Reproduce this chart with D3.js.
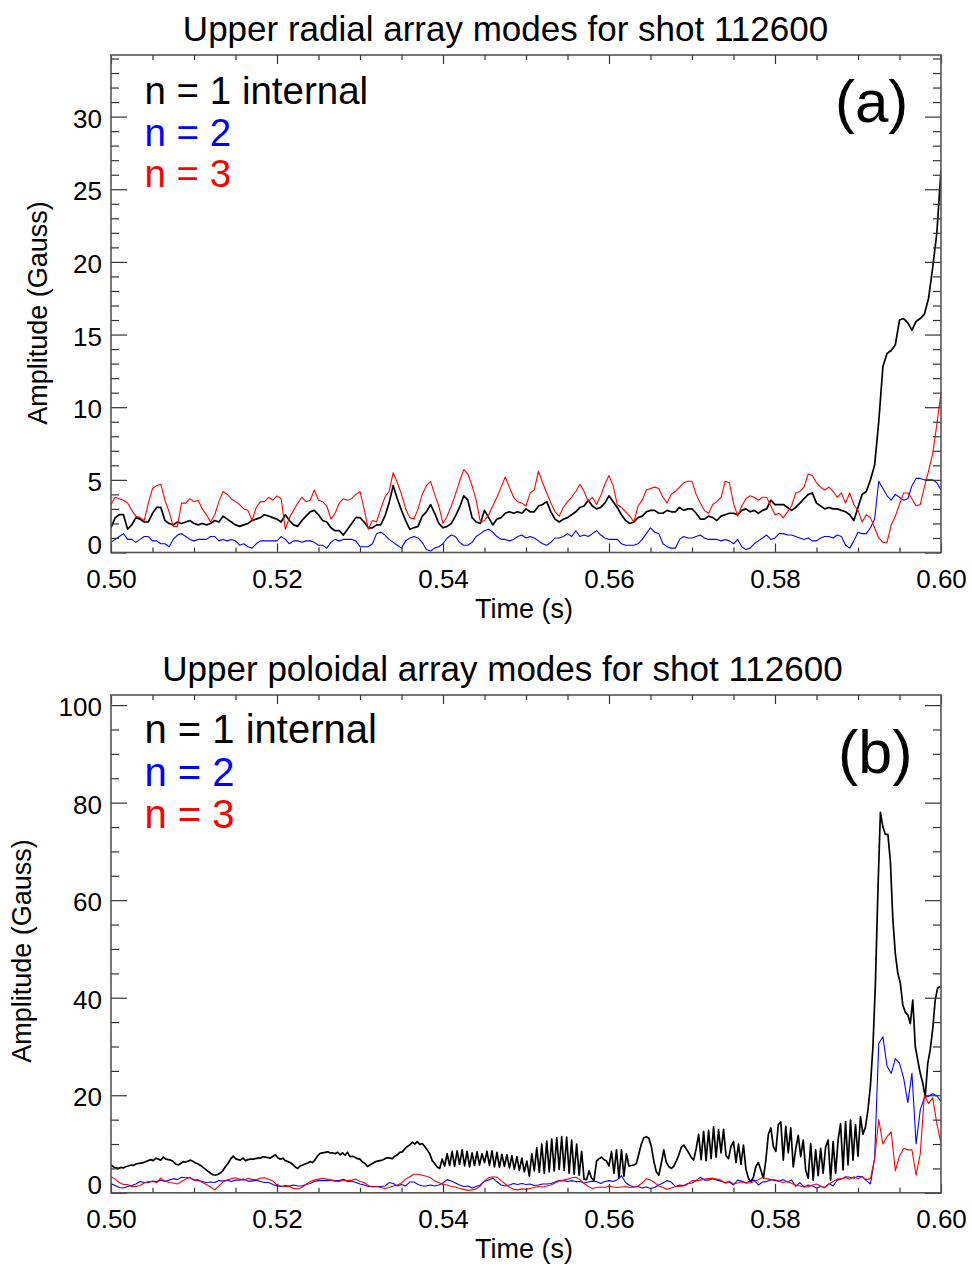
<!DOCTYPE html>
<html>
<head>
<meta charset="utf-8">
<script src="https://cdn.jsdelivr.net/npm/d3@7"></script>
<style>
  body { margin: 0; background: #fff; }
  svg text { font-family: "Liberation Sans", Arial, Helvetica, sans-serif; }
</style>
</head>
<body>
<div id="chart"></div>
<script>
// ---- data read off the reference (Gauss), sampled on a regular time grid ----
// panel (a): upper radial array, samples every 0.5 ms from 0.500 s
const radialStep = 0.0005;
const radialN1 = [
  1.7, 2.4, 2.6, 2.6, 1.6, 1.9, 2.4, 2.3, 2.1, 2.1,
  2.7, 3.1, 3.1, 2.2, 2.0, 1.9, 2.1, 2.0, 2.1, 2.2,
  2.0, 1.9, 2.0, 1.9, 2.0, 2.2, 2.1, 2.5, 2.3, 2.1,
  1.9, 1.8, 1.9, 2.0, 2.2, 2.3, 2.4, 2.6, 2.5, 2.4,
  2.3, 2.1, 2.6, 2.2, 1.9, 1.8, 2.2, 2.5, 2.8, 2.9,
  2.6, 2.2, 2.1, 1.7, 1.5, 1.5, 1.2, 1.6, 2.0, 2.4,
  2.4, 2.1, 1.7, 1.7, 1.9, 1.9, 2.5, 3.4, 4.6, 3.7,
  2.9, 2.2, 1.6, 1.7, 1.8, 2.5, 2.8, 3.3, 2.7, 2.0,
  1.7, 1.8, 2.0, 2.5, 3.1, 3.9, 3.6, 2.4, 2.1, 2.0,
  2.9, 2.4, 1.9, 2.3, 2.4, 2.7, 2.8, 2.7, 2.8, 2.7,
  3.0, 2.8, 2.8, 3.2, 3.3, 3.5, 2.8, 2.3, 2.1, 2.3,
  2.4, 2.6, 2.8, 3.1, 3.2, 3.6, 3.2, 3.0, 3.1, 3.4,
  3.9, 3.5, 3.1, 2.6, 2.2, 2.0, 2.1, 2.4, 2.5, 2.8,
  2.9, 2.9, 2.7, 2.7, 2.9, 2.8, 2.8, 3.1, 2.9, 3.0,
  3.0, 2.7, 2.3, 2.3, 2.5, 2.4, 2.2, 2.5, 2.6, 2.7,
  2.7, 2.6, 2.9, 3.0, 2.8, 2.9, 2.7, 2.9, 3.0, 3.6,
  3.3, 3.3, 3.3, 3.1, 2.9, 3.1, 3.4, 3.7, 4.0, 4.1,
  3.4, 3.2, 3.0, 3.1, 3.0, 3.0, 2.9, 2.8, 2.6, 2.2,
  3.1, 4.0, 4.2, 5.0, 6.0, 9.0, 12.8, 13.7, 13.9, 14.3,
  16.0, 16.1, 15.8, 15.3, 15.9, 16.1, 16.4, 17.5, 19.6, 22.0,
  26.3
];
const radialN2 = [
  0.7, 0.9, 1.1, 1.3, 0.9, 0.9, 0.7, 0.9, 1.1, 1.1,
  0.8, 0.8, 0.6, 0.6, 0.4, 0.9, 1.2, 1.3, 1.1, 0.9,
  0.8, 0.9, 0.9, 0.9, 1.1, 1.1, 0.8, 0.9, 0.8, 0.9,
  0.8, 0.5, 0.6, 0.4, 0.3, 0.6, 0.8, 0.8, 0.8, 0.8,
  0.8, 1.1, 0.9, 0.6, 0.8, 0.8, 0.7, 0.8, 0.8, 0.7,
  0.5, 0.5, 0.3, 0.7, 0.9, 0.8, 0.9, 0.9, 0.9, 0.8,
  0.4, 0.4, 0.4, 0.6, 1.3, 1.4, 1.2, 0.9, 0.7, 0.5,
  0.3, 0.8, 1.0, 1.1, 1.0, 0.7, 0.2, 0.1, 0.3, 0.4,
  0.6, 1.0, 1.2, 1.1, 0.7, 0.5, 0.5, 0.7, 1.1, 1.3,
  1.5, 1.6, 1.4, 1.1, 0.9, 0.9, 0.8, 0.9, 1.1, 1.2,
  1.0, 1.1, 1.0, 0.8, 0.6, 0.5, 0.7, 1.0, 1.0, 1.1,
  1.3, 1.1, 1.5, 1.1, 1.2, 1.1, 1.3, 1.5, 1.2, 1.0,
  0.9, 0.9, 0.9, 0.6, 0.5, 0.5, 0.5, 0.6, 0.9, 1.3,
  1.7, 1.4, 1.3, 0.6, 0.4, 0.3, 0.3, 0.9, 1.1, 1.0,
  1.0, 1.1, 1.2, 1.0, 0.9, 0.9, 0.9, 0.8, 0.9, 0.8,
  0.6, 0.9, 0.4, 0.2, 0.3, 0.6, 0.8, 1.0, 1.2, 0.9,
  1.0, 1.3, 1.3, 1.2, 1.2, 1.1, 1.0, 0.9, 1.0, 0.8,
  0.8, 1.0, 1.1, 1.1, 1.0, 1.2, 1.1, 0.5, 0.3, 0.8,
  1.4, 1.3, 1.3, 1.7, 2.3, 4.9, 4.4, 3.9, 3.6, 4.0,
  3.8, 3.6, 3.7, 4.6, 5.1, 5.1, 5.0, 5.0, 5.0, 4.8,
  4.3
];
const radialN3 = [
  3.3, 3.8, 3.7, 3.6, 3.4, 2.9, 2.5, 2.4, 2.2, 3.4,
  4.4, 4.6, 4.7, 3.6, 2.8, 1.8, 1.8, 3.4, 3.4, 3.7,
  3.5, 3.6, 3.0, 2.6, 2.1, 2.6, 3.5, 4.2, 4.0, 3.7,
  3.5, 3.3, 3.0, 2.9, 2.2, 3.1, 3.5, 3.5, 3.8, 3.6,
  3.9, 3.7, 1.6, 2.4, 2.9, 3.4, 3.8, 3.5, 3.6, 4.3,
  3.6, 3.5, 3.2, 2.3, 2.7, 3.4, 3.7, 3.6, 3.7, 4.0,
  4.2, 3.0, 1.6, 2.2, 2.1, 3.0, 3.8, 4.2, 5.5, 4.8,
  4.0, 3.0, 2.4, 2.3, 3.0, 4.0, 4.6, 4.9, 4.0, 3.2,
  2.0, 2.5, 3.2, 4.0, 4.9, 5.7, 5.4, 4.6, 3.6, 2.1,
  2.2, 2.6, 3.2, 3.8, 4.5, 5.2, 4.5, 3.8, 3.5, 3.4,
  3.2, 4.1, 4.3, 5.6, 4.8, 4.1, 3.4, 2.8, 2.5, 3.1,
  3.5, 3.8, 4.2, 4.7, 4.2, 3.5, 3.8, 3.3, 3.9, 4.7,
  5.3, 4.6, 3.3, 3.1, 2.8, 2.5, 2.1, 3.2, 3.6, 4.3,
  4.4, 4.5, 4.4, 3.8, 3.4, 4.0, 4.2, 4.5, 4.8, 4.9,
  4.9, 4.0, 3.4, 2.9, 2.7, 3.3, 3.5, 3.8, 4.9, 4.8,
  3.4, 2.5, 3.2, 3.7, 3.9, 3.8, 3.6, 3.8, 3.8, 3.2,
  2.6, 2.7, 2.4, 2.8, 3.2, 4.1, 4.2, 4.5, 5.4, 5.3,
  4.8, 4.5, 4.3, 4.5, 4.2, 3.8, 4.1, 3.4, 4.1, 3.3,
  2.9, 2.1, 2.6, 2.4, 1.7, 1.0, 0.7, 0.7, 1.9, 2.5,
  3.3, 4.1, 4.1, 3.7, 3.2, 3.3, 4.5, 5.6, 6.8, 8.8,
  11.0
];

// panel (b): upper poloidal array; n = 1 every 0.3 ms, n = 2 and n = 3 every 0.5 ms
const poloidalStepN1 = 0.0003;
const poloidalStep = 0.0005;
const poloidalN1 = [
  5.7, 5.3, 5.1, 5.0, 5.2, 5.1, 5.4, 5.5, 5.7, 5.6,
  5.9, 6.0, 6.1, 6.2, 6.4, 6.6, 6.8, 6.6, 7.1, 6.9,
  6.7, 7.3, 6.9, 6.8, 6.7, 6.4, 5.9, 5.7, 6.0, 6.4,
  6.3, 6.5, 6.7, 6.4, 6.1, 5.9, 5.6, 5.2, 4.8, 4.4,
  4.0, 3.7, 3.6, 3.8, 4.1, 4.6, 5.4, 6.0, 6.9, 7.5,
  7.0, 6.8, 6.7, 7.1, 6.6, 6.8, 6.9, 6.9, 7.0, 7.1,
  7.1, 7.4, 7.3, 7.2, 7.1, 7.5, 7.8, 7.2, 6.9, 7.1,
  6.6, 6.4, 6.2, 5.8, 5.3, 5.0, 5.5, 5.7, 5.9, 6.1,
  6.4, 6.2, 6.8, 7.6, 8.1, 8.2, 8.3, 8.4, 8.2, 8.2,
  8.0, 8.3, 7.8, 8.2, 7.7, 8.3, 7.4, 7.5, 7.3, 7.0,
  6.9, 6.3, 6.0, 5.4, 5.7, 6.0, 6.3, 6.5, 6.6, 6.7,
  7.0, 7.2, 7.1, 7.0, 7.5, 7.8, 8.3, 8.4, 9.0, 9.5,
  9.8, 10.4, 10.0, 10.5, 9.9, 10.1, 9.5, 8.8, 8.0, 6.6,
  6.0, 5.3, 5.0, 6.9, 5.5, 8.0, 5.6, 8.5, 5.4, 8.6,
  5.8, 8.8, 5.5, 8.5, 5.3, 8.2, 5.6, 8.4, 5.7, 8.0,
  6.2, 8.5, 5.6, 8.6, 5.3, 8.3, 5.2, 7.9, 5.4, 7.8,
  5.1, 7.6, 4.8, 7.4, 4.6, 7.1, 4.3, 6.5, 3.4, 8.0,
  4.5, 9.2, 4.2, 10.0, 4.0, 10.6, 4.3, 11.0, 4.5, 11.3,
  4.8, 11.5, 4.6, 11.4, 4.0, 10.8, 3.8, 10.0, 3.6, 8.5,
  2.8, 2.7, 4.5, 3.0, 2.6, 6.5, 7.0, 7.3, 6.8, 6.5,
  5.5, 8.5, 4.0, 8.8, 3.0, 8.8, 3.4, 8.0, 5.5, 5.6,
  5.7, 6.0, 8.0, 10.0, 11.3, 11.5, 11.2, 9.5, 6.5, 4.3,
  3.6, 6.0, 8.8, 6.3, 5.4, 5.0, 5.4, 6.5, 7.7, 9.3,
  9.8, 9.0, 8.2, 7.3, 6.7, 9.0, 12.0, 6.8, 12.6, 6.6,
  12.8, 7.0, 13.5, 7.3, 12.9, 8.2, 13.0, 7.6, 7.0, 9.5,
  10.5, 6.2, 10.0, 5.8, 9.8, 4.8, 3.0, 2.3, 3.2, 5.4,
  6.2, 4.6, 3.0, 6.7, 12.0, 13.3, 9.5, 8.5, 14.0, 14.5,
  6.7, 13.6, 8.2, 13.3, 5.3, 9.0, 11.8, 7.4, 10.8, 4.6,
  3.0, 10.1, 2.6, 8.8, 3.5, 9.1, 4.0, 9.4, 10.8, 2.6,
  10.5, 4.0, 10.8, 14.2, 4.7, 14.6, 5.7, 14.9, 6.7, 14.0,
  7.5, 15.6, 12.0, 13.5, 17.0, 22.0, 30.0, 43.0, 62.0, 78.0,
  75.0, 73.5, 73.5, 68.0, 56.0, 49.0, 45.0, 43.0, 38.5, 37.0,
  36.5, 34.7, 39.5, 30.0, 27.2, 24.5, 22.5, 19.7, 26.5, 29.3,
  33.5, 39.5, 42.0, 42.3
];
const poloidalN2 = [
  1.9, 1.5, 1.1, 1.0, 1.3, 1.5, 1.8, 2.3, 2.1, 2.1,
  2.4, 2.3, 2.6, 2.3, 2.6, 2.9, 2.7, 3.2, 3.1, 3.1,
  2.6, 2.5, 2.3, 2.1, 2.2, 2.1, 2.5, 2.4, 2.6, 2.3,
  2.6, 2.6, 2.8, 2.4, 2.4, 2.6, 2.3, 2.1, 2.1, 1.7,
  1.4, 1.3, 1.5, 1.4, 1.6, 1.4, 1.4, 1.7, 1.9, 2.3,
  2.5, 2.5, 2.5, 2.6, 2.5, 2.5, 2.8, 2.3, 2.4, 2.1,
  1.8, 1.6, 1.3, 1.3, 1.3, 1.3, 1.4, 2.1, 1.9, 1.4,
  1.7, 1.4, 2.2, 2.2, 1.7, 1.4, 1.4, 1.6, 1.4, 1.6,
  2.0, 2.7, 2.4, 2.0, 1.6, 1.3, 1.4, 1.0, 1.3, 1.6,
  2.4, 2.6, 3.0, 2.3, 1.6, 1.4, 1.6, 1.9, 1.7, 1.9,
  1.7, 1.8, 1.5, 1.6, 1.8, 1.8, 1.9, 2.2, 2.5, 2.5,
  2.3, 2.5, 2.3, 2.3, 2.0, 2.2, 2.4, 2.3, 1.9, 2.3,
  2.5, 2.3, 2.7, 3.5, 2.1, 1.5, 1.2, 1.3, 1.0, 1.2,
  0.9, 1.1, 1.6, 2.0, 2.5, 2.2, 1.3, 1.6, 1.5, 1.9,
  2.0, 2.5, 3.2, 2.6, 2.6, 2.9, 2.6, 2.4, 2.0, 2.2,
  1.6, 2.6, 2.4, 2.0, 2.4, 2.6, 1.6, 2.2, 2.3, 2.7,
  2.6, 2.4, 2.7, 2.2, 2.6, 1.3, 2.1, 1.2, 1.6, 1.4,
  1.0, 1.3, 1.1, 1.9, 1.4, 2.6, 2.8, 3.3, 3.2, 3.0,
  3.4, 3.3, 2.5, 1.8, 7.0, 30.6, 32.0, 26.0, 24.5, 27.5,
  26.6, 23.5, 18.5, 24.5, 10.0, 17.0, 19.5, 19.8, 20.3, 19.9,
  18.7
];
const poloidalN3 = [
  3.3, 2.8, 2.1, 1.7, 1.7, 1.3, 1.3, 1.5, 2.0, 2.3,
  2.3, 2.1, 3.0, 2.4, 2.1, 2.0, 1.8, 2.3, 2.8, 3.2,
  2.6, 2.7, 2.1, 1.7, 1.2, 0.6, 1.4, 2.2, 2.6, 2.9,
  3.1, 2.8, 2.6, 3.0, 2.7, 2.7, 3.0, 3.1, 2.8, 2.4,
  1.6, 1.4, 1.3, 1.3, 0.9, 0.8, 1.1, 1.7, 2.3, 2.6,
  2.8, 3.0, 2.8, 2.6, 2.4, 2.3, 2.6, 2.5, 2.6, 2.8,
  2.3, 2.1, 1.5, 1.2, 1.3, 1.1, 0.9, 1.1, 1.4, 1.6,
  2.0, 2.8, 3.3, 3.8, 3.8, 3.6, 3.4, 3.1, 2.4, 2.1,
  1.7, 1.6, 1.3, 1.2, 0.9, 0.7, 0.5, 0.6, 0.8, 1.4,
  2.4, 3.1, 3.3, 3.2, 2.5, 1.8, 1.2, 0.7, 0.6, 0.8,
  0.7, 0.9, 1.1, 1.3, 1.2, 1.4, 1.6, 2.0, 2.4, 2.6,
  2.8, 3.1, 3.2, 2.7, 1.9, 1.3, 0.9, 1.1, 1.2, 1.1,
  1.4, 1.2, 1.1, 1.2, 1.3, 1.1, 1.2, 1.4, 2.0, 2.9,
  2.6, 2.1, 1.4, 1.1, 0.7, 1.0, 1.3, 1.3, 1.4, 1.8,
  2.5, 2.5, 2.6, 2.8, 2.9, 3.0, 2.8, 2.6, 2.0, 2.4,
  1.8, 2.0, 2.2, 2.0, 2.0, 2.3, 2.7, 3.2, 2.9, 2.7,
  2.6, 2.3, 2.1, 2.3, 1.9, 1.6, 1.4, 1.2, 1.2, 1.6,
  1.8, 1.4, 1.0, 1.8, 2.3, 2.8, 2.9, 3.1, 2.8, 3.3,
  2.9, 3.3, 2.7, 2.9, 7.0, 15.0, 10.0, 11.5, 12.5, 4.5,
  7.5, 9.1, 8.8, 8.8, 3.6, 8.0, 20.0, 18.3, 19.5, 14.2,
  10.2
];

const legendLabels = ["n = 1 internal", "n = 2", "n = 3"];
const seriesColors = ["#000000", "#0000ff", "#ff0000"];

// ---- layout ----
const width = 972, height = 1266;
const axisColor = "#555";
const fmtX = d3.format(".2f");

const svg = d3.select("#chart").append("svg")
    .attr("width", width)
    .attr("height", height);

function drawPanel(p) {
    const x = d3.scaleLinear().domain([0.5, 0.6]).range([p.left, p.right]);
    const y = d3.scaleLinear().domain([0, p.yMax]).range([p.bottom, p.top]);

    const g = svg.append("g");

    g.append("clipPath")
        .attr("id", "clip-" + p.id)
        .append("rect")
        .attr("x", p.left)
        .attr("y", p.top)
        .attr("width", p.right - p.left)
        .attr("height", p.bottom - p.top);

    // data lines: n=1 first, then n=2, n=3 on top
    const line = d3.line()
        .x(d => x(d.t))
        .y(d => y(d.v));

    p.series.forEach(function (s, k) {
        const pts = s.values.map((v, i) => ({t: 0.5 + i * s.step, v: v}));
        g.append("path")
            .attr("clip-path", "url(#clip-" + p.id + ")")
            .attr("d", line(pts))
            .attr("fill", "none")
            .attr("stroke", seriesColors[k])
            .attr("stroke-width", k == 0 ? 1.7 : 1.1)
            .attr("stroke-linejoin", "round");
    });

    // tick positions
    const xMajor = d3.range(0, 6).map(k => 0.5 + k * 0.02);
    const xMinor = d3.range(0, 21).map(k => 0.5 + k * 0.005).filter((v, k) => k % 4 != 0);
    const yMajor = d3.range(0, p.yMax, p.majorStep);
    const yMinor = d3.range(0, p.yMax, p.minorStep).filter(v => Math.abs(v / p.majorStep - Math.round(v / p.majorStep)) > 1e-6);

    function addAxis(gen, tx, ty, values, len, withLabels) {
        const a = g.append("g")
            .attr("transform", `translate(${tx},${ty})`)
            .call(gen.tickValues(values)
                .tickSize(-len)
                .tickSizeOuter(0)
                .tickPadding(0)
                .tickFormat(withLabels ? null : ""));
        a.select(".domain").remove();
        a.selectAll(".tick line")
            .attr("stroke", "#333")
            .attr("stroke-width", 1.2);
        return a;
    }

    // bottom / top
    const xb = addAxis(d3.axisBottom(x).tickFormat(fmtX), 0, p.bottom, xMajor, 9, true);
    xb.selectAll("text")
        .attr("y", 35.5)
        .attr("dy", null)
        .attr("fill", "#000")
        .style("font-size", "26px")
        .text(d => fmtX(d));
    addAxis(d3.axisBottom(x), 0, p.bottom, xMinor, 5, false);
    addAxis(d3.axisTop(x), 0, p.top, xMajor, 9, false);
    addAxis(d3.axisTop(x), 0, p.top, xMinor, 5, false);

    // left / right
    const yl = addAxis(d3.axisLeft(y).tickFormat(d3.format("d")), p.left, 0, yMajor, 16, true);
    yl.selectAll("text")
        .attr("x", -9)
        .attr("dy", null)
        .attr("y", d => d == 0 ? 0.5 : 10.5)
        .attr("fill", "#000")
        .style("font-size", "26px")
        .text(d => d3.format("d")(d));
    addAxis(d3.axisLeft(y), p.left, 0, yMinor, 8, false);
    addAxis(d3.axisRight(y), p.right, 0, yMajor, 16, false);
    addAxis(d3.axisRight(y), p.right, 0, yMinor, 8, false);

    // frame
    g.append("rect")
        .attr("x", p.left)
        .attr("y", p.top)
        .attr("width", p.right - p.left)
        .attr("height", p.bottom - p.top)
        .attr("fill", "none")
        .attr("stroke", axisColor)
        .attr("stroke-width", 1.6);

    // titles
    g.append("text")
        .attr("x", p.titleX)
        .attr("y", p.titleY)
        .attr("text-anchor", "middle")
        .style("font-size", "35px")
        .text(p.title);

    g.append("text")
        .attr("x", 524)
        .attr("y", p.bottom + 65.5)
        .attr("text-anchor", "middle")
        .style("font-size", "27px")
        .text("Time (s)");

    g.append("text")
        .attr("transform", `translate(${p.yLabelX},${p.yLabelY}) rotate(-90)`)
        .attr("text-anchor", "middle")
        .style("font-size", "27px")
        .text("Amplitude (Gauss)");

    // legend, one coloured line per mode
    legendLabels.forEach(function (lab, k) {
        g.append("text")
            .attr("x", 144.5)
            .attr("y", p.legendY[k])
            .attr("fill", seriesColors[k])
            .style("font-size", p.legendSize + "px")
            .text(lab);
    });

    g.append("text")
        .attr("x", p.tagX)
        .attr("y", p.tagY)
        .style("font-size", p.tagSize + "px")
        .text(p.tag);
}

drawPanel({
    id: "a",
    left: 111, right: 941, top: 55, bottom: 552.5,
    yMax: 34.24, majorStep: 5, minorStep: 1,
    title: "Upper radial array modes for shot 112600",
    titleX: 505.5, titleY: 41,
    yLabelX: 47, yLabelY: 313,
    legendY: [103.5, 146, 187], legendSize: 38.5,
    tag: "(a)", tagX: 835, tagY: 122, tagSize: 60,
    series: [
        {values: radialN1, step: radialStep},
        {values: radialN2, step: radialStep},
        {values: radialN3, step: radialStep}
    ]
});

drawPanel({
    id: "b",
    left: 111, right: 941, top: 695, bottom: 1192.8,
    yMax: 102.07, majorStep: 20, minorStep: 5,
    title: "Upper poloidal array modes for shot 112600",
    titleX: 502.5, titleY: 681,
    yLabelX: 31, yLabelY: 951,
    legendY: [743, 785.5, 828], legendSize: 40,
    tag: "(b)", tagX: 838, tagY: 773, tagSize: 61,
    series: [
        {values: poloidalN1, step: poloidalStepN1},
        {values: poloidalN2, step: poloidalStep},
        {values: poloidalN3, step: poloidalStep}
    ]
});
</script>
</body>
</html>
